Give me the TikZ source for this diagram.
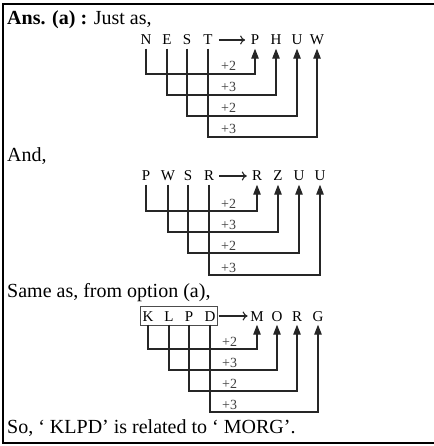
\documentclass[tikz,border=0pt]{standalone}
\usepackage{fontspec}
\setmainfont{Liberation Serif}
\usetikzlibrary{arrows.meta,fit}

\begin{document}
\begin{tikzpicture}[
	x=1pt, y=-1pt,
	every node/.style={inner sep=0pt},
	line text/.style={anchor=base west, font=\fontsize{20}{24}\selectfont},
	letter/.style={anchor=base, font=\fontsize{15}{18}\selectfont,
		text height=10pt, text depth=0pt, inner xsep=1pt, inner ysep=3.5pt},
	shift label/.style={anchor=base west, font=\fontsize{14}{16}\selectfont, text=black!75},
	link/.style={draw=black!85, line width=1.2pt, -{Triangle[length=10pt,width=7.5pt]}},
	maps to/.style={draw=black!85, line width=1.1pt, -{To[length=5pt,width=9pt]}}
	]
	\useasboundingbox (0,0) rectangle (433,446);
	% frame
	\draw[line width=1.5pt] (440,4) -- (3,4) -- (3,443) -- (440,443);

	% texts
	\node[line text] (ans) at (7,25) {\textbf{Ans. (a) :} Just as,};
	\node[line text] (and) at (7,162) {And,};
	\node[line text] (same) at (7,297) {Same as, from option (a),};
	\node[line text] (so) at (7,433) {So, ‘ KLPD’ is related to ‘ MORG’.};

	% first code
	\node[letter] (a1) at (146,45) {N};
	\node[letter] (a2) at (167,45) {E};
	\node[letter] (a3) at (187,45) {S};
	\node[letter] (a4) at (208,45) {T};
	\node[letter] (b1) at (255,45) {P};
	\node[letter] (b2) at (276,45) {H};
	\node[letter] (b3) at (297,45) {U};
	\node[letter] (b4) at (317,45) {W};
	\draw[maps to, shorten <=5pt, shorten >=4.5pt] (a4.east) -- (b1.west);
	\coordinate (ha1) at (0,74);
	\coordinate (ha2) at (0,95);
	\coordinate (ha3) at (0,116);
	\coordinate (ha4) at (0,137);
	\foreach \i in {1,...,4}
		\draw[link] (a\i.south) |- (ha\i -| b\i) -- (b\i.south);
	\node[shift label] (sa1) at (221,71) {+2};
	\node[shift label] (sa2) at (221,92) {+3};
	\node[shift label] (sa3) at (221,113) {+2};
	\node[shift label] (sa4) at (221,134) {+3};

	% second code
	\node[letter] (c1) at (146,181) {P};
	\node[letter] (c2) at (168,181) {W};
	\node[letter] (c3) at (188,181) {S};
	\node[letter] (c4) at (209,181) {R};
	\node[letter] (d1) at (257,181) {R};
	\node[letter] (d2) at (278,181) {Z};
	\node[letter] (d3) at (299,181) {U};
	\node[letter] (d4) at (320,181) {U};
	\draw[maps to, shorten <=4pt, shorten >=4pt] (c4.east) -- (d1.west);
	\coordinate (hc1) at (0,211);
	\coordinate (hc2) at (0,232);
	\coordinate (hc3) at (0,253);
	\coordinate (hc4) at (0,275);
	\foreach \i in {1,...,4}
		\draw[link] (c\i.south) |- (hc\i -| d\i) -- (d\i.south);
	\node[shift label] (sc1) at (221,208) {+2};
	\node[shift label] (sc2) at (221,229) {+3};
	\node[shift label] (sc3) at (221,250) {+2};
	\node[shift label] (sc4) at (221,272) {+3};

	% third code
	\node[letter] (e1) at (148,321) {K};
	\node[letter] (e2) at (169,321) {L};
	\node[letter] (e3) at (189,321) {P};
	\node[letter] (e4) at (210,321) {D};
	\node[letter] (f1) at (257,321) {M};
	\node[letter] (f2) at (277,321) {O};
	\node[letter] (f3) at (297,321) {R};
	\node[letter] (f4) at (318,321) {G};
	\node[draw=black!70, line width=0.8pt, inner sep=0.5pt, fit=(e1)(e4)] (klpd) {};
	\draw[maps to, shorten <=1pt, shorten >=1.5pt] (klpd.east) -- (f1.west);
	\coordinate (he1) at (0,349);
	\coordinate (he2) at (0,370);
	\coordinate (he3) at (0,391);
	\coordinate (he4) at (0,412);
	\foreach \i in {1,...,4}
		\draw[link] (e\i.south) |- (he\i -| f\i) -- (f\i.south);
	\node[shift label] (se1) at (222,346) {+2};
	\node[shift label] (se2) at (222,367) {+3};
	\node[shift label] (se3) at (222,388) {+2};
	\node[shift label] (se4) at (222,409) {+3};
\end{tikzpicture}
\end{document}
